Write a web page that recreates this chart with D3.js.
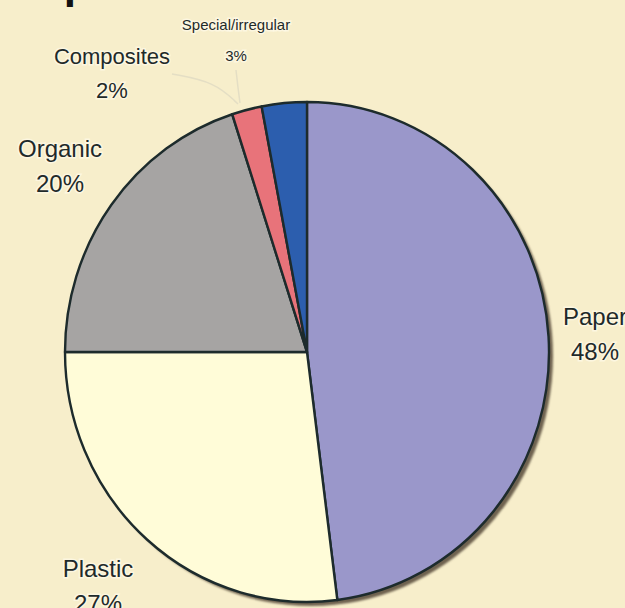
<!DOCTYPE html>
<html><head><meta charset="utf-8">
<script src="https://cdn.jsdelivr.net/npm/d3@7"></script>
<style>
html,body{margin:0;padding:0;background:#f7eecb;}
svg{display:block;}
</style></head>
<body>
<svg id="chart" width="625" height="608"></svg>
<script>
// ---- data ----
const categories = ["Paper", "Plastic", "Organic", "Composites", "Special/irregular"];
const values = [48, 27, 20, 2, 3];
const percentLabels = ["48%", "27%", "20%", "2%", "3%"];
const colors = ["#9a97ca", "#fffcd8", "#a6a4a3", "#e8737a", "#2c5eae"];
// label anchor positions (px) and font sizes
const labelX = [595, 98, 60, 112, 236];
const labelY = [325, 577, 157, 64, 30];
const labelSize = [24, 24, 24, 22, 15];
const lineGap = [35, 35, 35, 34, 31];

const svg = d3.select("#chart");
const W = 625, H = 608;
svg.append("rect").attr("width", W).attr("height", H).attr("fill", "#f7eecb");

// title, mostly cut off at the top edge
svg.append("text")
  .attr("x", -34).attr("y", -2)
  .attr("font-family", "Liberation Sans, Arial, sans-serif")
  .attr("font-weight", "bold").attr("font-size", 44)
  .attr("fill", "#111")
  .text("Composition of waste collected");

const cx = 307, cy = 352, r = 242, sy = 1.033;

const defs = svg.append("defs");
const f = defs.append("filter").attr("id", "sh").attr("x", "-10%").attr("y", "-10%").attr("width", "130%").attr("height", "130%");
f.append("feGaussianBlur").attr("stdDeviation", 1.2);

const pie = d3.pie().sort(null).value(d => d)(values);
const arc = d3.arc().innerRadius(0).outerRadius(r);

// leader lines (faint)
const leaders = svg.append("g").attr("fill", "none").attr("stroke", "#e4dec4").attr("stroke-width", 1.5);
leaders.append("path").attr("d", d3.line().curve(d3.curveBasis)([[236, 70], [238, 88], [240, 103]]));
leaders.append("path").attr("d", d3.line().curve(d3.curveBasis)([[172, 74], [215, 82], [238, 104]]));

// shadow
svg.append("ellipse")
  .attr("cx", cx + 4).attr("cy", cy + 4)
  .attr("rx", r).attr("ry", r * sy)
  .attr("fill", "#6e6250").attr("filter", "url(#sh)");

const g = svg.append("g").attr("transform", `translate(${cx},${cy}) scale(1,${sy})`);
g.selectAll("path.slice").data(pie).join("path")
  .attr("class", "slice")
  .attr("d", arc)
  .attr("fill", (d, i) => colors[i])
  .attr("stroke", "#1d2b2c")
  .attr("stroke-width", 2.4)
  .attr("stroke-linejoin", "round");

// labels
const lab = svg.append("g")
  .attr("font-family", "Liberation Sans, Arial, sans-serif")
  .attr("fill", "#1f2a2a")
  .attr("text-anchor", "middle");
categories.forEach((c, i) => {
  [c, percentLabels[i]].forEach((t, k) => {
    lab.append("text")
      .attr("x", labelX[i]).attr("y", labelY[i] + k * lineGap[i])
      .attr("font-size", labelSize[i])
      .attr("stroke", "#fffbea").attr("stroke-width", 3).attr("stroke-opacity", 0.7)
      .attr("paint-order", "stroke")
      .text(t);
  });
});
</script>
</body></html>
